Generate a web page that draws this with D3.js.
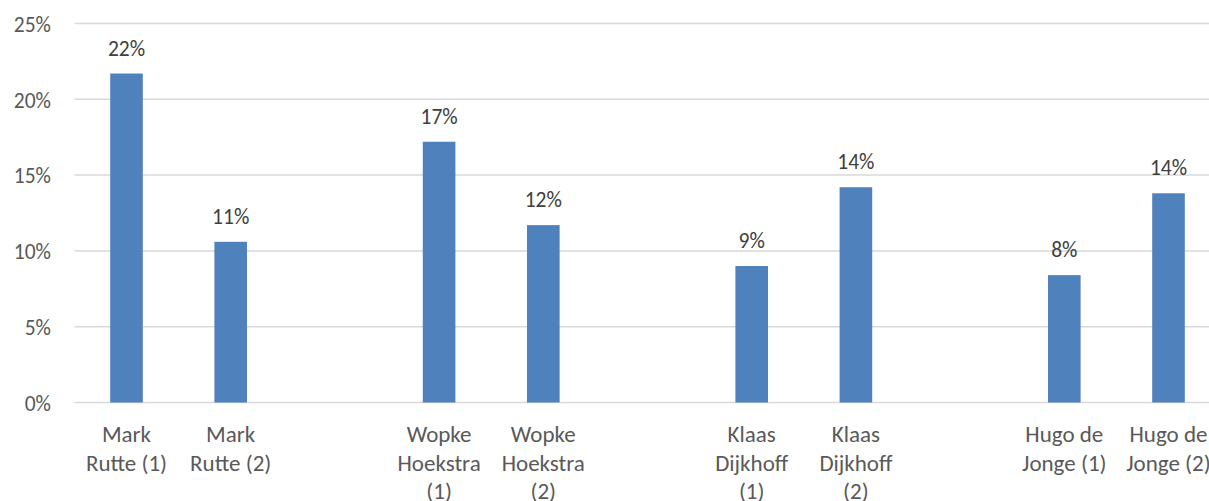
<!DOCTYPE html>
<html>
<head>
<meta charset="utf-8">
<script src="https://cdn.jsdelivr.net/npm/d3@7/dist/d3.min.js"></script>
<style>
  html, body { margin: 0; padding: 0; background: #fff; overflow: hidden; }
  text { font-family: Carlito, Calibri, Lato, sans-serif; fill: #595959; }
</style>
</head>
<body>
<svg id="chart" width="1209" height="501"></svg>
<script>
// Categories (empty strings are the blank spacer slots in the original chart)
const categories = [
  "Mark\nRutte (1)", "Mark\nRutte (2)", "",
  "Wopke\nHoekstra\n(1)", "Wopke\nHoekstra\n(2)", "",
  "Klaas\nDijkhoff\n(1)", "Klaas\nDijkhoff\n(2)", "",
  "Hugo de\nJonge (1)", "Hugo de\nJonge (2)"
];
const values = [0.217, 0.106, null, 0.172, 0.117, null, 0.090, 0.142, null, 0.084, 0.138];
const yTicks = [0, 0.05, 0.10, 0.15, 0.20, 0.25];

const svg = d3.select("#chart");
const numSize = 21.5;
const labelSize = 23;

const x = d3.scaleBand()
  .domain(d3.range(categories.length))
  .range([74.4, 1220.6])
  .paddingInner(0.687)
  .paddingOuter(0.3435);

const y = d3.scaleLinear().domain([0, 0.25]).range([402.5, 23.5]);
const pct = d3.format(".0%");

// Gridlines
svg.append("g").selectAll("line").data(yTicks).join("line")
  .attr("x1", 74.4).attr("x2", 1220.6)
  .attr("y1", d => y(d)).attr("y2", d => y(d))
  .attr("stroke", "#D9D9D9").attr("stroke-width", 1.5);

// Y axis labels
const yAxis = d3.axisLeft(y).tickValues(yTicks).tickFormat(pct).tickSize(0).tickPadding(0);
const yg = svg.append("g").attr("transform", "translate(51,0)").call(yAxis);
yg.select(".domain").remove();
yg.selectAll("text")
  .style("font-size", numSize + "px")
  .attr("fill", "#595959")
  .attr("font-family", null)
  .attr("dy", "0.36em");

// Bars
const data = categories.map((c, i) => ({ i, c, v: values[i] })).filter(d => d.v != null);
svg.append("g").selectAll("rect").data(data).join("rect")
  .attr("x", d => x(d.i))
  .attr("width", x.bandwidth())
  .attr("y", d => y(d.v))
  .attr("height", d => y(0) - y(d.v))
  .attr("fill", "#4F81BD");

// Data labels
svg.append("g").selectAll("text").data(data).join("text")
  .attr("x", d => x(d.i) + x.bandwidth() / 2)
  .attr("y", d => y(d.v) - 18)
  .attr("text-anchor", "middle")
  .style("font-size", numSize + "px")
  .style("fill", "#404040")
  .text(d => pct(d.v));

// Category labels
const cg = svg.append("g");
categories.forEach((c, i) => {
  if (!c) return;
  const t = cg.append("text")
    .attr("x", x(i) + x.bandwidth() / 2)
    .attr("y", 434)
    .attr("text-anchor", "middle")
    .style("font-size", labelSize + "px");
  c.split("\n").forEach((line, k) => {
    t.append("tspan")
      .attr("x", x(i) + x.bandwidth() / 2)
      .attr("y", 434 + k * 28.5)
      .attr("dy", "0.36em")
      .text(line);
  });
});
</script>
</body>
</html>
